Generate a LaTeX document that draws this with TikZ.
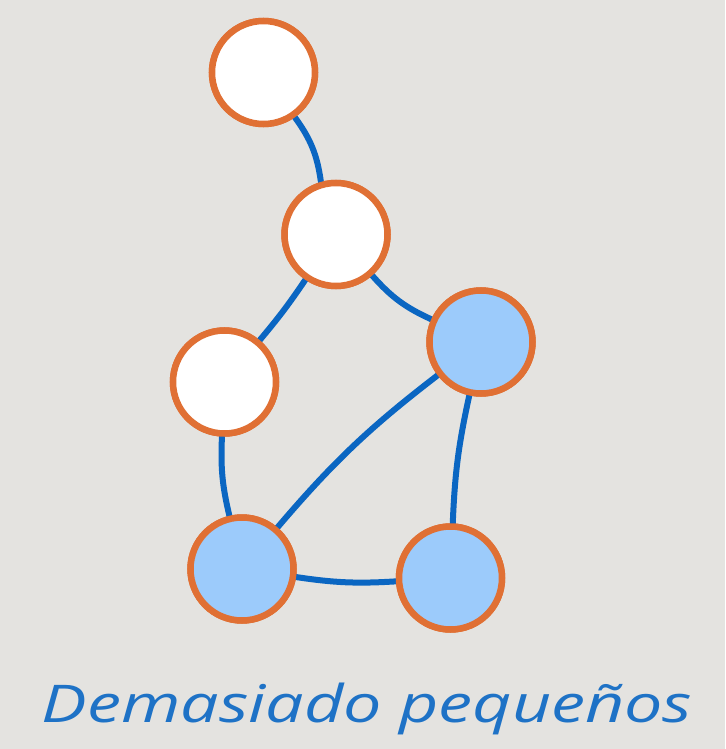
\documentclass[tikz,border=0pt]{standalone}
\usepackage{fontspec}
\setmainfont{Open Sans}
\definecolor{bg}{HTML}{E4E3E0}
\definecolor{nodeorange}{HTML}{E07034}
\definecolor{edgeblue}{HTML}{0A66C2}
\definecolor{lightblue}{HTML}{9CCBFB}
\definecolor{textblue}{HTML}{1E72C6}
\tikzset{
  vert/.style={circle, draw=nodeorange, line width=6.5pt, minimum size=103pt, inner sep=0pt, fill=white},
  bluevert/.style={vert, fill=lightblue},
  edge/.style={draw=edgeblue, line width=6pt, line cap=round},
}
\begin{document}
\begin{tikzpicture}[x=1pt,y=-1pt]
\fill[bg] (0,0) rectangle (725,749);
\useasboundingbox (0,0) rectangle (725,749);
\node[vert] (a) at (263.5,72.5) {};
\node[vert] (b) at (336,234.5) {};
\node[vert] (c) at (224.5,382) {};
\node[bluevert] (d) at (481,342) {};
\node[bluevert] (e) at (242,569) {};
\node[bluevert] (f) at (450.5,578) {};
\path[edge] (a.-55) to[bend left=14] (b.106);
\path[edge] (b) to[bend left=3] (c);
\path[edge] (b) to[bend right=12] (d);
\path[edge] (d) to[bend right=6] (e);
\path[edge] (d) to[bend right=5] (f);
\path[edge] (c) to[bend right=8] (e);
\path[edge] (e) to[bend right=6] (f);
\node[vert] at (a) {};
\node[vert] at (b) {};
\node[vert] at (c) {};
\node[bluevert] at (d) {};
\node[bluevert] at (e) {};
\node[bluevert] at (f) {};
\node[text=textblue, font=\fontsize{52}{60}\selectfont\itshape, anchor=base, xscale=1.31] (t) at (367,722) {Demasiado pequeños};
\end{tikzpicture}
\end{document}
